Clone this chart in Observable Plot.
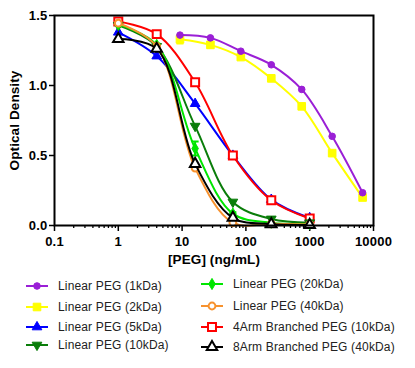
<!DOCTYPE html>
<html>
<head>
<meta charset="utf-8">
<script src="https://cdn.jsdelivr.net/npm/d3@7"></script>
<script src="https://cdn.jsdelivr.net/npm/@observablehq/plot@0.6"></script>
<style>
  html, body { margin: 0; padding: 0; background: #fff; }
  #wrap { position: relative; width: 415px; height: 368px; font-family: "Liberation Sans", Arial, sans-serif; }
  #chart svg text { font-family: "Liberation Sans", Arial, sans-serif; }
  .tick-bold text { font-weight: bold; letter-spacing: 0.2px; }
  .title-bold text { letter-spacing: 0.1px; }
  .leg { position: absolute; height: 16px; display: flex; align-items: center; font-size: 12px; letter-spacing: 0.15px; color: #222; white-space: nowrap; }
  .leg svg { display: block; }
</style>
</head>
<body>
<div id="wrap">
  <div id="chart"></div>
  <div id="legend"></div>
</div>
<script>
// ---- data ----
const concA = [9.26, 27.8, 83.3, 250, 750, 2250, 6750];   // 3-fold dilution series (ng/mL)
const concB = [1, 4, 16, 62.5, 250, 1000];                 // 4-fold dilution series (ng/mL)

const seriesNames = [
  "Linear PEG (1kDa)", "Linear PEG (2kDa)", "Linear PEG (5kDa)", "Linear PEG (10kDa)",
  "Linear PEG (20kDa)", "Linear PEG (40kDa)", "4Arm Branched PEG (10kDa)", "8Arm Branched PEG (40kDa)"
];
const od1k   = [1.36, 1.34, 1.245, 1.148, 0.972, 0.637, 0.234];
const od2k   = [1.33, 1.29, 1.203, 1.051, 0.851, 0.517, 0.200];
const od5k   = [1.38, 1.21, 0.870, 0.500, 0.185, 0.054];
const od10k  = [1.43, 1.28, 0.710, 0.168, 0.047, 0.020];
const od20k  = [1.435, 1.29, 0.550, 0.085, 0.020, 0.010];
const od40k  = [1.445, 1.28, 0.410, 0.020, 0.012, 0.008];
const odB10k = [1.457, 1.367, 1.023, 0.500, 0.180, 0.050];
const odB40k = [1.332, 1.262, 0.440, 0.055, 0.010, 0.004];
const err2k  = [0.03, 0.02, 0.01, 0.02, 0.01, 0.01, 0.01];
const err20k = [0.01, 0.01, 0.05, 0.01, 0.0, 0.0];

const xMajor = [0.1, 1, 10, 100, 1000, 10000];
const yTicks = [0, 0.5, 1.0, 1.5];

// ---- styles ----
const colors = ["#9a1fd6", "#ffff00", "#0000ff", "#0a7d0a", "#00e600", "#f7922e", "#ff0000", "#000000"];
const triDown = {
  draw(context, size) {
    const y = -Math.sqrt(size / (Math.sqrt(3) * 3));
    context.moveTo(0, -y * 2);
    context.lineTo(-Math.sqrt(3) * y, y);
    context.lineTo(Math.sqrt(3) * y, y);
    context.closePath();
  }
};
const capSymbol = { draw(context) { context.moveTo(-3.5, 0); context.lineTo(3.5, 0); } };
const symbols = ["circle", "square", "triangle", triDown, "diamond", "circle", "square", "triangle"];
const filled  = [true, true, true, true, true, false, false, false];
const radii   = [3.3, 4.3, 3.6, 3.6, 3.4, 3.4, 4.5, 3.9];

const allOd = [od1k, od2k, od5k, od10k, od20k, od40k, odB10k, odB40k];
const allConc = [concA, concA, concB, concB, concB, concB, concB, concB];
const allErr = [null, err2k, null, null, err20k, null, null, null];

const series = allOd.map((vals, i) => vals.map((v, j) => ({
  name: seriesNames[i], conc: allConc[i][j], od: v, err: allErr[i] ? allErr[i][j] : 0
})));

const xMinor = [];
for (let k = -1; k <= 3; k++) for (let m = 2; m <= 9; m++) xMinor.push(m * Math.pow(10, k));

const order = [1, 0, 2, 6, 3, 4, 5, 7];

const marks = [
  Plot.axisX({ticks: xMinor, tickFormat: () => "", tickSize: 3, strokeWidth: 1.3, label: null}),
  Plot.axisX({ticks: xMajor, tickFormat: d => String(d), tickSize: 6, tickPadding: 5, strokeWidth: 1.5,
    fontSize: 13, fontWeight: "bold", className: "tick-bold", label: null}),
  Plot.axisY({ticks: yTicks, tickFormat: d => d.toFixed(1), tickSize: 5, tickPadding: 2, strokeWidth: 1.5,
    fontSize: 13, fontWeight: "bold", className: "tick-bold", label: null}),
  Plot.text(["Optical Density"], {frameAnchor: "left", textAnchor: "middle", dx: -40, rotate: -90, fontSize: 13.5, fontWeight: "bold", className: "title-bold"}),
  Plot.text(["[PEG] (ng/mL)"], {frameAnchor: "bottom", textAnchor: "middle", dy: 38, fontSize: 13.5, fontWeight: "bold", className: "title-bold"}),
];

for (const i of order) {
  const d = series[i];
  marks.push(Plot.line(d, {x: "conc", y: "od", stroke: colors[i], strokeWidth: 2, curve: "catmull-rom"}));
  if (allErr[i]) {
    const e = d.filter(p => p.err > 0);
    marks.push(Plot.ruleX(e, {x: "conc", y1: p => p.od - p.err, y2: p => p.od + p.err, stroke: colors[i], strokeWidth: 2}));
    marks.push(Plot.dot(e, {x: "conc", y: p => p.od + p.err, symbol: () => capSymbol, stroke: colors[i], strokeWidth: 2}));
    marks.push(Plot.dot(e, {x: "conc", y: p => p.od - p.err, symbol: () => capSymbol, stroke: colors[i], strokeWidth: 2}));
  }
  marks.push(Plot.dot(d, {
    x: "conc", y: "od", r: radii[i], symbol: () => symbols[i],
    fill: filled[i] ? colors[i] : "white",
    stroke: colors[i], strokeWidth: filled[i] ? 1 : 2
  }));
}
marks.push(Plot.frame({stroke: "black", strokeWidth: 2}));

const chart = Plot.plot({
  width: 415, height: 270,
  marginLeft: 54, marginRight: 42, marginTop: 15, marginBottom: 45,
  x: {type: "log", domain: [0.1, 10000]},
  y: {domain: [0, 1.5]},
  symbol: {type: "identity"},
  style: {fontFamily: "Liberation Sans, Arial, sans-serif", color: "black", background: "white"},
  marks
});
document.getElementById("chart").appendChild(chart);

// ---- legend ----
const legendPos = [
  [25, 286], [25, 307], [25, 327], [25, 345],
  [200, 284], [200, 306], [200, 327], [200, 347]
];
const leg = document.getElementById("legend");
seriesNames.forEach((name, i) => {
  const [lx, ly] = legendPos[i];
  const div = document.createElement("div");
  div.className = "leg";
  div.style.left = lx + "px";
  div.style.top = (ly - 8) + "px";
  const symType = typeof symbols[i] === "string"
    ? d3["symbol" + symbols[i][0].toUpperCase() + symbols[i].slice(1)] : symbols[i];
  const path = d3.symbol(symType, Math.PI * radii[i] * radii[i])();
  div.innerHTML =
    `<svg width="24" height="16"><line x1="1" x2="23" y1="8" y2="8" stroke="${colors[i]}" stroke-width="2"/>` +
    `<path transform="translate(12,8)" d="${path}" fill="${filled[i] ? colors[i] : "white"}" stroke="${colors[i]}" stroke-width="${filled[i] ? 1 : 2}"/></svg>` +
    `<span style="margin-left:9px">${name}</span>`;
  leg.appendChild(div);
});
</script>
</body>
</html>
